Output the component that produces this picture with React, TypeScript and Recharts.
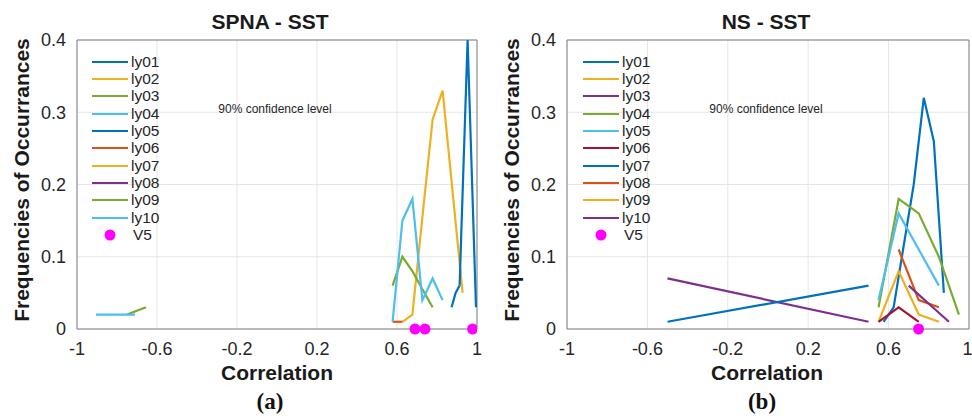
import React from 'react';
import { LineChart, Line, XAxis, YAxis, CartesianGrid, ReferenceArea } from 'recharts';

// matlab default line colours
const BLUE = '#0072BD';
const ORANGE = '#D95319';
const YELLOW = '#EDB120';
const PURPLE = '#7E2F8E';
const GREEN = '#77AC30';
const LIGHTBLUE = '#4DBEEE';
const DARKRED = '#A2142F';
const MAGENTA = '#FF00FF';

const xTicks = [-1, -0.6, -0.2, 0.2, 0.6, 1];
const yTicks = [0, 0.1, 0.2, 0.3, 0.4];
const legendNames = ['ly01', 'ly02', 'ly03', 'ly04', 'ly05', 'ly06', 'ly07', 'ly08', 'ly09', 'ly10'];

// SPNA - SST : [correlation, frequency]
const spnaLy01: [number, number][] = [[0.873, 0.03], [0.893, 0.05], [0.913, 0.06]];
const spnaLy02: [number, number][] = [[0.627, 0.01], [0.677, 0.02], [0.727, 0.155], [0.778, 0.29], [0.828, 0.33], [0.928, 0.05]];
const spnaLy03: [number, number][] = [[-0.75, 0.02], [-0.655, 0.03]];
const spnaLy04: [number, number][] = [[-0.905, 0.02], [-0.71, 0.02]];
const spnaLy05: [number, number][] = [[0.913, 0.06], [0.953, 0.4], [0.995, 0.03]];
const spnaLy06: [number, number][] = [[0.578, 0.01], [0.627, 0.01]];
const spnaLy07: [number, number][] = [];
const spnaLy08: [number, number][] = [];
const spnaLy09: [number, number][] = [[0.578, 0.06], [0.627, 0.1], [0.677, 0.08], [0.727, 0.055], [0.778, 0.03]];
const spnaLy10: [number, number][] = [[0.578, 0.01], [0.627, 0.15], [0.677, 0.18], [0.727, 0.04], [0.778, 0.07], [0.828, 0.04]];
const spnaV5: [number, number][] = [[0.69, 0], [0.74, 0], [0.978, 0]];

// NS - SST
const nsLy01: [number, number][] = [[0.575, 0.01], [0.625, 0.03], [0.675, 0.115], [0.725, 0.2], [0.775, 0.32], [0.825, 0.26], [0.875, 0.05]];
const nsLy02: [number, number][] = [[0.55, 0.01], [0.65, 0.08], [0.75, 0.02], [0.85, 0.01]];
const nsLy03: [number, number][] = [[-0.5, 0.07], [0.5, 0.01]];
const nsLy04: [number, number][] = [[0.55, 0.03], [0.65, 0.18], [0.75, 0.16], [0.85, 0.1], [0.95, 0.02]];
const nsLy05: [number, number][] = [[0.55, 0.04], [0.65, 0.16], [0.75, 0.11], [0.85, 0.06]];
const nsLy06: [number, number][] = [[0.55, 0.01], [0.65, 0.03], [0.75, 0.01]];
const nsLy07: [number, number][] = [[-0.5, 0.01], [0.5, 0.06]];
const nsLy08: [number, number][] = [[0.65, 0.11], [0.75, 0.04], [0.85, 0.03]];
const nsLy09: [number, number][] = [];
const nsLy10: [number, number][] = [[0.7, 0.06], [0.8, 0.035], [0.9, 0.01]];
const nsV5: [number, number][] = [[0.749, 0]];

const spnaColors = [BLUE, YELLOW, GREEN, LIGHTBLUE, BLUE, ORANGE, YELLOW, PURPLE, GREEN, LIGHTBLUE];
const nsColors = [BLUE, YELLOW, PURPLE, GREEN, LIGHTBLUE, DARKRED, BLUE, ORANGE, YELLOW, PURPLE];

const spnaSeries = [spnaLy01, spnaLy02, spnaLy03, spnaLy04, spnaLy05, spnaLy06, spnaLy07, spnaLy08, spnaLy09, spnaLy10];
const nsSeries = [nsLy01, nsLy02, nsLy03, nsLy04, nsLy05, nsLy06, nsLy07, nsLy08, nsLy09, nsLy10];

const toPts = (a: [number, number][]) => a.map(([x, y]) => ({ x, y }));

const FONT = '"Liberation Sans", Arial, Helvetica, sans-serif';
const tickStyle = { fontSize: 18, fill: '#262626', fontFamily: FONT };
const tickMark = { stroke: '#808080' };

function Panel({ series, colors, v5, width, right }: { series: [number, number][][]; colors: string[]; v5: [number, number][]; width: number; right: number }) {
  return (
    <LineChart width={width} height={365} margin={{ top: 40, right, bottom: 0, left: 17 }}>
      <CartesianGrid stroke="#e6e6e6" />
      <XAxis
        type="number"
        dataKey="x"
        domain={[-1, 1]}
        ticks={xTicks}
        allowDataOverflow
        axisLine={false}
        tickLine={false}
        tickSize={0}
        tickMargin={13}
        height={36}
        tick={tickStyle}
        tickFormatter={(v: number) => String(v)}
      />
      <YAxis
        type="number"
        dataKey="y"
        domain={[0, 0.4]}
        ticks={yTicks}
        axisLine={false}
        tickLine={false}
        tickSize={0}
        tickMargin={11}
        width={60}
        tick={tickStyle}
        tickFormatter={(v: number) => String(v)}
      />
      {/* inward tick marks, matlab style */}
      <XAxis xAxisId="tb" type="number" dataKey="x" domain={[-1, 1]} ticks={xTicks} orientation="bottom" mirror axisLine={false} tick={false} tickSize={4} tickLine={tickMark} height={0} />
      <XAxis xAxisId="tt" type="number" dataKey="x" domain={[-1, 1]} ticks={xTicks} orientation="top" mirror axisLine={false} tick={false} tickSize={4} tickLine={tickMark} height={0} />
      <YAxis yAxisId="yl" type="number" dataKey="y" domain={[0, 0.4]} ticks={yTicks} orientation="left" mirror axisLine={false} tick={false} tickSize={4} tickLine={tickMark} width={0} />
      <YAxis yAxisId="yr" type="number" dataKey="y" domain={[0, 0.4]} ticks={yTicks} orientation="right" mirror axisLine={false} tick={false} tickSize={4} tickLine={tickMark} width={0} />
      <ReferenceArea x1={-1} x2={1} y1={0} y2={0.4} fill="none" stroke="#808080" strokeWidth={1} />
      {series.map((s, i) => (
        <Line
          key={i}
          data={toPts(s)}
          dataKey="y"
          type="linear"
          stroke={colors[i]}
          strokeWidth={2.2}
          dot={false}
          isAnimationActive={false}
        />
      ))}
      <Line
        data={toPts(v5)}
        dataKey="y"
        stroke="none"
        dot={{ r: 5.5, fill: MAGENTA, stroke: 'none' }}
        isAnimationActive={false}
      />
    </LineChart>
  );
}

function Legend({ colors, left }: { colors: string[]; left: number }) {
  return (
    <div style={{ position: 'absolute', left, top: 53, fontFamily: FONT, fontSize: 15.5, color: '#262626' }}>
      {legendNames.map((n, i) => (
        <div key={n} style={{ display: 'flex', alignItems: 'center', height: 17.33 }}>
          <svg width={37} height={6}>
            <line x1={0} y1={3} x2={36} y2={3} stroke={colors[i]} strokeWidth={2.2} />
          </svg>
          <span style={{ marginLeft: 2 }}>{n}</span>
        </div>
      ))}
      <div style={{ display: 'flex', alignItems: 'center', height: 17.33 }}>
        <svg width={37} height={12}>
          <circle cx={18} cy={6} r={5.5} fill={MAGENTA} />
        </svg>
        <span style={{ marginLeft: 4 }}>V5</span>
      </div>
    </div>
  );
}

const abs = (left: number, top: number, extra: React.CSSProperties = {}): React.CSSProperties => ({
  position: 'absolute',
  left,
  top,
  whiteSpace: 'nowrap',
  ...extra,
});

export default function App() {
  const bold: React.CSSProperties = { fontFamily: FONT, fontWeight: 'bold', fontSize: 21, color: '#1a1a1a' };
  const serif: React.CSSProperties = { fontFamily: '"Liberation Serif", "Times New Roman", serif', fontWeight: 'bold', fontSize: 23, color: '#111' };
  return (
    <div style={{ position: 'absolute', left: 0, top: 0, width: 972, height: 419, background: '#fff', overflow: 'hidden' }}>
      <div style={abs(0, 0)}>
        <Panel series={spnaSeries} colors={spnaColors} v5={spnaV5} width={490} right={13} />
      </div>
      <div style={abs(490, 0)}>
        <Panel series={nsSeries} colors={nsColors} v5={nsV5} width={482} right={3} />
      </div>
      <Legend colors={spnaColors} left={92} />
      <Legend colors={nsColors} left={583} />

      <div style={abs(270, 10, { ...bold, transform: 'translateX(-50%)' })}>SPNA - SST</div>
      <div style={abs(766, 10, { ...bold, transform: 'translateX(-50%)' })}>NS - SST</div>

      <div style={abs(275, 102, { fontFamily: FONT, fontSize: 12, color: '#262626', transform: 'translateX(-50%)' })}>90% confidence level</div>
      <div style={abs(766, 102, { fontFamily: FONT, fontSize: 12, color: '#262626', transform: 'translateX(-50%)' })}>90% confidence level</div>

      <div style={abs(22, 180, { ...bold, transform: 'translate(-50%, -50%) rotate(-90deg)' })}>Frequencies of Occurrances</div>
      <div style={abs(512, 180, { ...bold, transform: 'translate(-50%, -50%) rotate(-90deg)' })}>Frequencies of Occurrances</div>

      <div style={abs(277, 361, { ...bold, transform: 'translateX(-50%)' })}>Correlation</div>
      <div style={abs(767, 361, { ...bold, transform: 'translateX(-50%)' })}>Correlation</div>

      <div style={abs(270, 389, { ...serif, transform: 'translateX(-50%)' })}>(a)</div>
      <div style={abs(762, 389, { ...serif, transform: 'translateX(-50%)' })}>(b)</div>
    </div>
  );
}
